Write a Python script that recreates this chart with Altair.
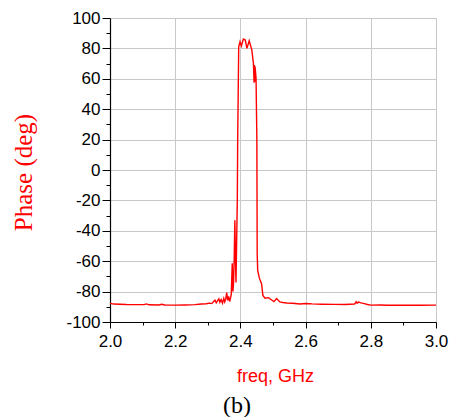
import altair as alt
import pandas as pd

# Phase response of the filter, 2.0 - 3.0 GHz
freq = [
    2.000, 2.005, 2.012, 2.030, 2.050, 2.080, 2.105, 2.112, 2.120, 2.150,
    2.159, 2.168, 2.200, 2.230, 2.260, 2.280, 2.295, 2.305, 2.312, 2.318,
    2.322, 2.326, 2.330, 2.334, 2.337, 2.341, 2.345, 2.349, 2.352, 2.355,
    2.358, 2.361, 2.364, 2.367, 2.370, 2.372, 2.375, 2.377, 2.379, 2.381,
    2.383, 2.385, 2.3865, 2.3905, 2.3917, 2.3948, 2.3988, 2.403, 2.409, 2.415,
    2.420, 2.427, 2.435, 2.440, 2.442, 2.443, 2.444, 2.445, 2.448, 2.4505,
    2.4515, 2.453, 2.458, 2.465, 2.469, 2.4755, 2.486, 2.496, 2.503, 2.511,
    2.521, 2.530, 2.542, 2.560, 2.583, 2.600, 2.620, 2.650, 2.690, 2.720,
    2.750, 2.755, 2.758, 2.762, 2.770, 2.780, 2.790, 2.800, 2.830, 2.850,
    2.900, 2.950, 3.000,
]
phase = [
    -87.8, -87.9, -88.2, -88.3, -88.5, -88.6, -88.6, -88.1, -88.7, -88.8,
    -88.3, -88.8, -88.9, -88.8, -88.6, -88.2, -88.0, -87.6, -87.9, -86.5,
    -85.6, -87.4, -86.0, -84.8, -87.0, -85.2, -87.6, -84.5, -86.8, -85.0,
    -80.6, -85.8, -83.2, -86.5, -84.0, -81.8, -61.4, -80.0, -74.0, -58.0,
    -33.0, -60.0, -74.0, -20.0, 20.0, 81.0, 84.4, 81.6, 86.2, 85.5,
    80.0, 85.0, 79.0, 70.0, 57.4, 69.0, 58.0, 68.0, 60.5, 19.7,
    -55.0, -66.0, -71.0, -75.0, -82.5, -84.4, -84.0, -85.5, -86.6, -84.6,
    -86.8, -87.2, -87.5, -87.7, -88.2, -87.8, -88.1, -88.3, -88.4, -88.5,
    -88.2, -86.7, -87.6, -86.9, -87.4, -87.9, -88.5, -88.9, -88.8, -89.0,
    -89.0, -89.0, -88.9,
]

y_ticks = list(range(-100, 101, 10))
x_ticks = [round(2.0 + 0.1 * i, 1) for i in range(11)]

df = pd.DataFrame({"freq": freq, "phase": phase})

label_font = "Liberation Sans"

x_axis = alt.Axis(
    values=x_ticks,
    format=".1f",
    labelExpr="round(datum.value * 10) % 2 === 0 ? datum.label : ''",
    labelFont=label_font,
    labelFontSize=17,
    labelColor="black",
    labelPadding=5,
    labelFlush=False,
    labelOverlap=False,
    tickSize={"condition": {"test": "round(datum.value * 10) % 2 === 0", "value": 6}, "value": 3},
    tickColor="black",
    domainColor="black",
    domainWidth=1.2,
    grid=True,
    gridColor="#c8c8c8",
    gridWidth=1,
    gridOpacity={"condition": {"test": "round(datum.value * 10) % 2 === 0", "value": 1}, "value": 0},
    title="freq, GHz",
    titleFont=label_font,
    titleFontSize=18,
    titleFontWeight="normal",
    titleColor="#ff0000",
    titleBaseline="alphabetic",
    titleAlign="center",
    titleX=165,
    titleY=59,
)

# plain hyphen for negative labels
y_axis = alt.Axis(
    values=y_ticks,
    labelExpr="datum.value % 20 === 0 ? '' + datum.value : ''",
    labelFont=label_font,
    labelFontSize=17,
    labelColor="black",
    labelPadding=2,
    labelFlush=False,
    labelOverlap=False,
    tickSize={"condition": {"test": "datum.value % 20 === 0", "value": 8}, "value": 4},
    tickColor="black",
    domainColor="black",
    domainWidth=1.2,
    grid=True,
    gridColor="#c8c8c8",
    gridWidth=1,
    gridOpacity={"condition": {"test": "datum.value % 20 === 0", "value": 1}, "value": 0},
    title="Phase (deg)",
    titleFont="Liberation Serif",
    titleFontSize=25,
    titleFontWeight="normal",
    titleColor="#ff0000",
    titleAngle=270,
    titleBaseline="alphabetic",
    titleAlign="center",
    titleX=-79,
    titleY=154,
)

chart = (
    alt.Chart(df)
    .mark_line(color="#ff0000", strokeWidth=1.4, interpolate="linear")
    .encode(
        x=alt.X("freq:Q", scale=alt.Scale(domain=[2.0, 3.0], nice=False, zero=False), axis=x_axis),
        y=alt.Y("phase:Q", scale=alt.Scale(domain=[-100, 100], nice=False, zero=False), axis=y_axis),
    )
    .properties(
        width=326,
        height=304,
        autosize=alt.AutoSizeParams(type="none"),
        padding={"left": 110, "top": 18, "right": 15, "bottom": 95},
        title=alt.TitleParams(
            "(b)",
            orient="bottom",
            anchor="middle",
            font="Liberation Serif",
            fontSize=24,
            fontWeight="normal",
            color="black",
            baseline="top",
            dx=-36,
            offset=9,
        ),
    )
    .configure_view(stroke="#666666", strokeWidth=1.5)
    .configure(background="white")
)

chart.save("out.html", embed_options={"renderer": "svg", "actions": False})
